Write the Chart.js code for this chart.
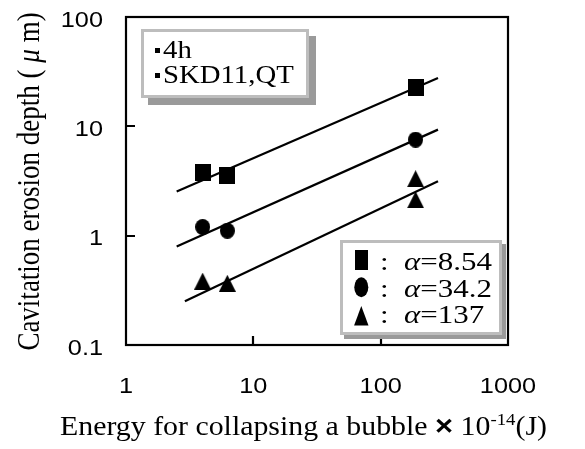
<!DOCTYPE html>
<html><head><meta charset="utf-8">
<script src="https://cdn.jsdelivr.net/npm/chart.js@4.4.1/dist/chart.umd.min.js"></script>
<style>html,body{margin:0;padding:0;background:#fff}#wrap{width:585px;height:449px}</style>
</head><body><div id="wrap"><canvas id="c" width="585" height="449"></canvas></div>
<script>
// ---- data ----
const xTicks = [1, 10, 100, 1000];
const yTicks = [0.1, 1, 10, 100];
const energy = [4.0, 6.25, 188];
const depthA854 = [3.79, 3.54, 22.5];
const depthA342 = [1.20, 1.11, 7.55];
const energyA137 = [4.0, 6.25, 188, 188];
const depthA137 = [0.384, 0.367, 3.32, 2.13];
const fitEnergy = [2.5, 282];
const fitA854 = [2.54, 27.7];
const fitA342 = [0.798, 9.33];
const fitEnergyA137 = [2.9, 282];
const fitA137 = [0.251, 3.14];
const alphaLabels = ['8.54', '34.2', '137'];
const infoLines = ['4h', 'SKD11,QT'];
const yTitleText = ['Cavitation erosion depth ( ', 'μ', ' m)'];
const xTitleText = ['Energy for collapsing a bubble ', '×', ' 10', '-14', '(J)'];

const SERIF = 'Liberation Serif';
const SANS = 'Liberation Sans';
const SX = 1.15;

function pts(xs, ys) { return xs.map((x, i) => ({ x: x, y: ys[i] })); }
function mk(w, h, draw) {
  const c = document.createElement('canvas'); c.width = w; c.height = h;
  const g = c.getContext('2d'); g.fillStyle = '#000'; draw(g, w, h); return c;
}
const sqImg = mk(16, 17, (g, w, h) => g.fillRect(0, 0, w, h));
const ciImg = mk(15, 16, (g, w, h) => { g.beginPath(); g.ellipse(w / 2, h / 2, w / 2, h / 2, 0, 0, Math.PI * 2); g.fill(); });
const trImg = mk(17, 17, (g, w, h) => { g.beginPath(); g.moveTo(w / 2, 0); g.lineTo(w, h); g.lineTo(0, h); g.closePath(); g.fill(); });

function runsWidth(ctx, runs) { let w = 0; for (const r of runs) { ctx.font = r.font; w += ctx.measureText(r.text).width; } return w; }
function drawRuns(ctx, runs) { let cx = 0; for (const r of runs) { ctx.font = r.font; ctx.fillText(r.text, cx, r.dy || 0); cx += ctx.measureText(r.text).width; } }
function alphaRuns(t) {
  return [
    { text: ':  ', font: '26px "' + SERIF + '"' },
    { text: 'α', font: 'italic 26px "' + SERIF + '"' },
    { text: '=' + t, font: '26px "' + SERIF + '"' }
  ];
}

const deco = {
  id: 'deco',
  beforeDatasetsDraw(chart) {
    const ctx = chart.ctx, a = chart.chartArea;
    const xs = chart.scales.x, ys = chart.scales.y;
    ctx.save();
    ctx.strokeStyle = '#000'; ctx.lineWidth = 2.2;
    ctx.strokeRect(a.left, a.top, a.right - a.left, a.bottom - a.top);
    ctx.beginPath();
    xTicks.slice(1, -1).forEach(v => { const p = Math.round(xs.getPixelForValue(v)); ctx.moveTo(p, a.bottom); ctx.lineTo(p, a.bottom - 9); });
    yTicks.slice(1, -1).forEach(v => { const p = Math.round(ys.getPixelForValue(v)); ctx.moveTo(a.left, p); ctx.lineTo(a.left + 9, p); });
    ctx.stroke();
    // tick labels (through the scales)
    ctx.fillStyle = '#000'; ctx.font = '22px "' + SANS + '"'; ctx.textBaseline = 'alphabetic';
    xs.ticks.forEach(t => {
      const p = xs.getPixelForValue(t.value); const s = String(t.value);
      ctx.save(); ctx.translate(p, 393); ctx.scale(SX, 1); ctx.textAlign = 'center'; ctx.fillText(s, 0, 0); ctx.restore();
    });
    ys.ticks.forEach(t => {
      const p = ys.getPixelForValue(t.value); const s = String(t.value);
      ctx.save(); ctx.translate(103, p + 9.5); ctx.scale(SX, 1); ctx.textAlign = 'right'; ctx.fillText(s, 0, 0); ctx.restore();
    });
    ctx.restore();
  },
  afterDraw(chart) {
    const ctx = chart.ctx;
    ctx.save();
    ctx.fillStyle = '#000'; ctx.textBaseline = 'alphabetic'; ctx.textAlign = 'left';
    // info box (top-left)
    ctx.fillStyle = '#9a9a9a'; ctx.fillRect(148, 36, 168, 69);
    ctx.fillStyle = '#fff'; ctx.fillRect(141, 29, 168, 69);
    ctx.strokeStyle = '#bdbdbd'; ctx.lineWidth = 3; ctx.strokeRect(142.5, 30.5, 165, 66);
    ctx.fillStyle = '#000';
    infoLines.forEach((t, i) => {
      const bl = 58 + i * 25;
      ctx.fillRect(155, bl - 10, 5, 5);
      ctx.save(); ctx.translate(163, bl); ctx.scale(SX, 1);
      drawRuns(ctx, [{ text: t, font: '25px "' + SERIF + '"' }]);
      ctx.restore();
    });
    // alpha legend box (bottom-right)
    ctx.fillStyle = '#9a9a9a'; ctx.fillRect(344, 244, 162, 95);
    ctx.fillStyle = '#fff'; ctx.fillRect(340, 240, 162, 95);
    ctx.strokeStyle = '#bdbdbd'; ctx.lineWidth = 3; ctx.strokeRect(341.5, 241.5, 159, 92);
    ctx.fillStyle = '#000';
    const bls = [270, 296.5, 323];
    ctx.fillRect(355, 250, 13, 20);
    ctx.beginPath(); ctx.ellipse(361.3, 287.3, 7, 10, 0, 0, Math.PI * 2); ctx.fill();
    ctx.beginPath(); ctx.moveTo(361.3, 306); ctx.lineTo(368.5, 325.5); ctx.lineTo(354.1, 325.5); ctx.closePath(); ctx.fill();
    const lsx = 112 / runsWidth(ctx, alphaRuns(alphaLabels[0]));
    alphaLabels.forEach((t, i) => {
      ctx.save(); ctx.translate(380, bls[i]); ctx.scale(lsx, 1);
      drawRuns(ctx, alphaRuns(t));
      ctx.restore();
    });
    // x title
    const xr = [
      { text: xTitleText[0], font: '27px "' + SERIF + '"' },
      { text: xTitleText[1], font: 'bold 28px "' + SANS + '"' },
      { text: xTitleText[2], font: '27px "' + SERIF + '"' },
      { text: xTitleText[3], font: '17px "' + SERIF + '"', dy: -10 },
      { text: xTitleText[4], font: '27px "' + SERIF + '"' }
    ];
    const xw = runsWidth(ctx, xr);
    ctx.save(); ctx.translate(60, 435); ctx.scale(487 / xw, 1); drawRuns(ctx, xr); ctx.restore();
    // y title
    const yr = [
      { text: yTitleText[0], font: '27px "' + SERIF + '"' },
      { text: yTitleText[1], font: 'italic 27px "' + SERIF + '"' },
      { text: yTitleText[2], font: '27px "' + SERIF + '"' }
    ];
    const yw = runsWidth(ctx, yr);
    ctx.save(); ctx.translate(39, 181.5); ctx.rotate(-Math.PI / 2); ctx.scale(1, SX);
    ctx.translate(-yw / 2, 0); drawRuns(ctx, yr); ctx.restore();
    ctx.restore();
  }
};

new Chart(document.getElementById('c'), {
  type: 'scatter',
  data: {
    datasets: [
      { label: 'fit 8.54', data: pts(fitEnergy, fitA854), showLine: true, pointRadius: 0, borderColor: '#000', borderWidth: 2.2 },
      { label: 'fit 34.2', data: pts(fitEnergy, fitA342), showLine: true, pointRadius: 0, borderColor: '#000', borderWidth: 2.2 },
      { label: 'fit 137', data: pts(fitEnergyA137, fitA137), showLine: true, pointRadius: 0, borderColor: '#000', borderWidth: 2.2 },
      { label: 'α=8.54', data: pts(energy, depthA854), pointStyle: sqImg, pointRadius: 8, backgroundColor: '#000' },
      { label: 'α=34.2', data: pts(energy, depthA342), pointStyle: ciImg, pointRadius: 8, backgroundColor: '#000' },
      { label: 'α=137', data: pts(energyA137, depthA137), pointStyle: trImg, pointRadius: 8, backgroundColor: '#000' }
    ]
  },
  options: {
    responsive: false, animation: false, devicePixelRatio: 1,
    layout: { padding: { left: 0, top: 17, right: 77, bottom: 0 } },
    plugins: { legend: { display: false }, tooltip: { enabled: false } },
    scales: {
      x: {
        type: 'logarithmic', min: 1, max: 1000,
        afterBuildTicks: s => { s.ticks = xTicks.map(v => ({ value: v })); },
        afterFit: s => { s.height = 104; },
        ticks: { display: false, padding: 0 },
        grid: { display: false, drawTicks: false }, border: { display: false }
      },
      y: {
        type: 'logarithmic', min: 0.1, max: 100,
        afterBuildTicks: s => { s.ticks = yTicks.map(v => ({ value: v })); },
        afterFit: s => { s.width = 126; },
        ticks: { display: false, padding: 0 },
        grid: { display: false, drawTicks: false }, border: { display: false }
      }
    }
  },
  plugins: [deco]
});
</script></body></html>
